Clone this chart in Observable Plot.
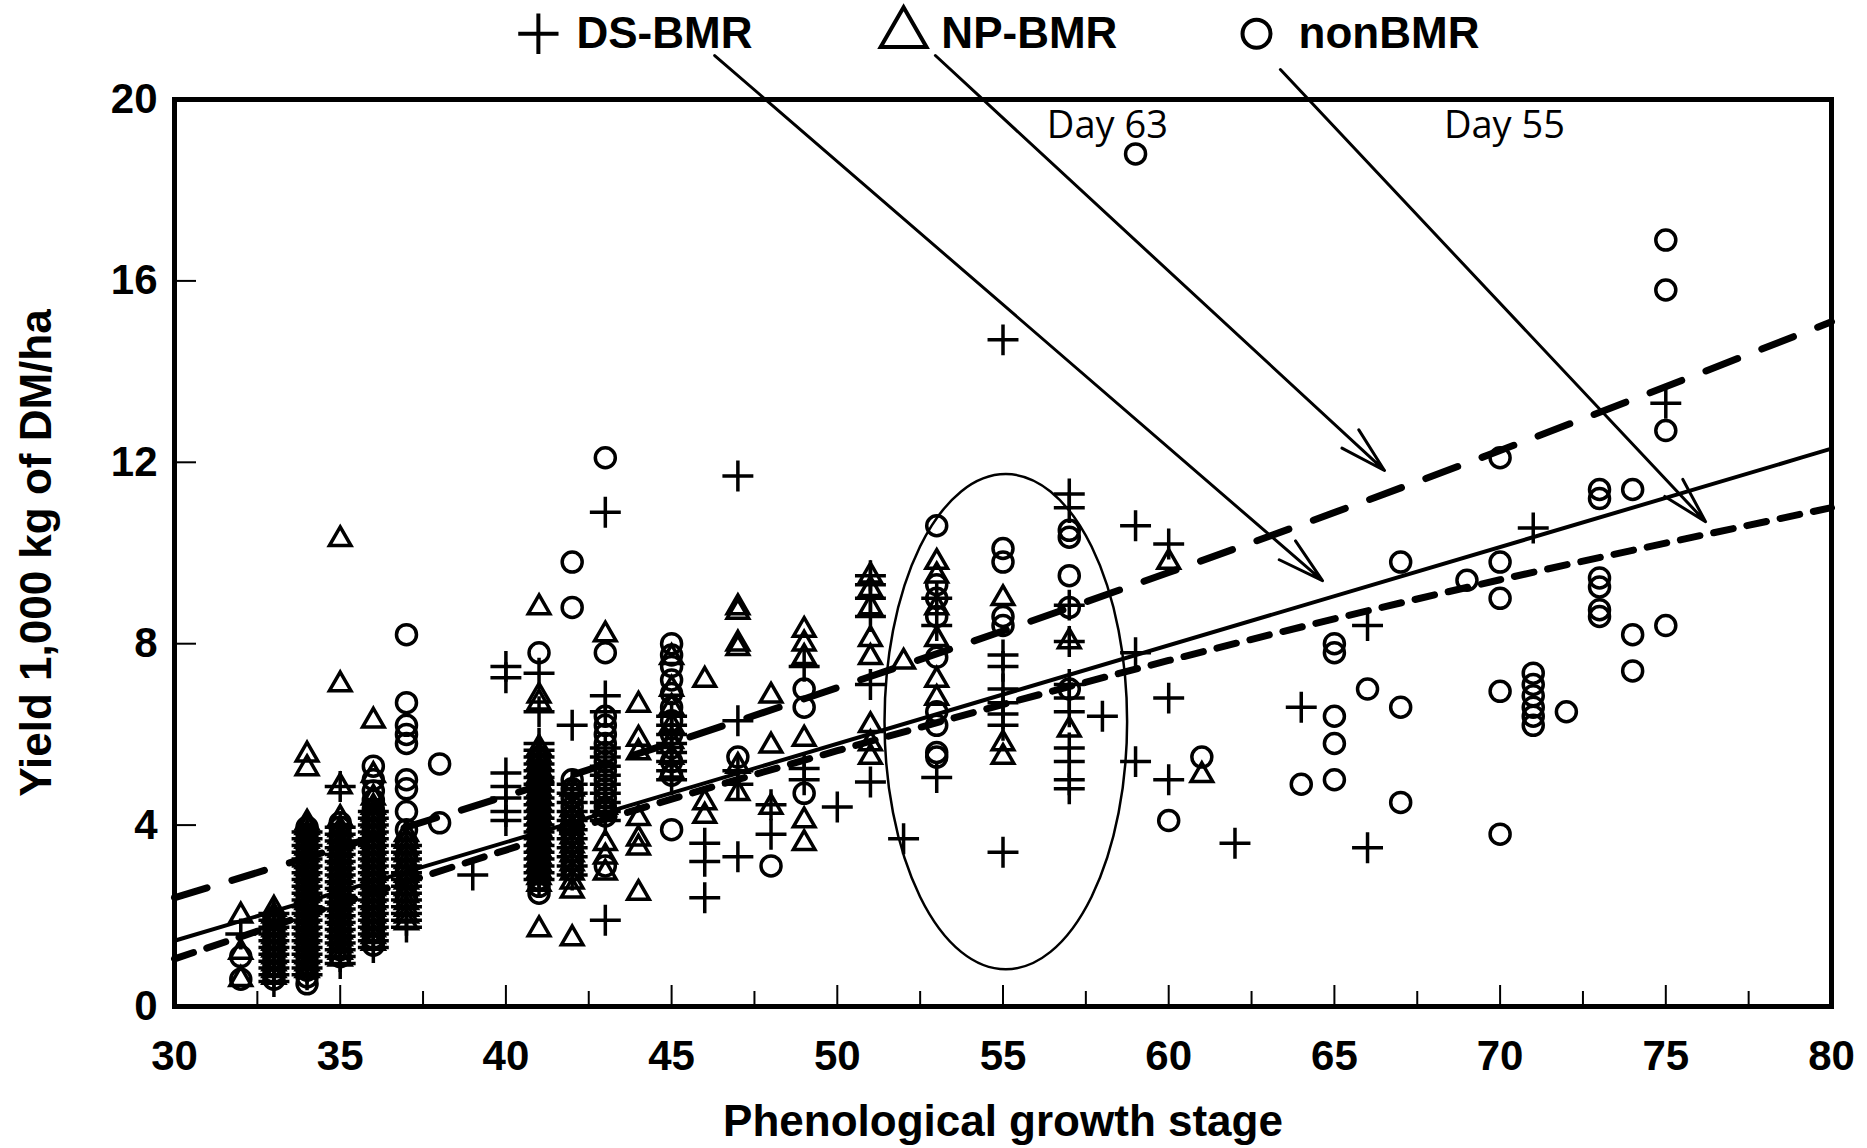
<!DOCTYPE html>
<html>
<head>
<meta charset="utf-8">
<script src="https://cdn.jsdelivr.net/npm/d3@7"></script>
<script src="https://cdn.jsdelivr.net/npm/@observablehq/plot@0.6"></script>
<style>
  html, body { margin: 0; padding: 0; background: #fff; overflow: hidden; }
  #chart svg { display: block; }
</style>
</head>
<body>
<div id="chart"></div>
<script>
// ---------- tick labels ----------
const xTickValues = [30, 35, 40, 45, 50, 55, 60, 65, 70, 75, 80];
const xMajorTickMarks = [35, 40, 45, 50, 55, 60, 65, 70, 75];
const xMinorTickMarks = [32.5, 37.5, 42.5, 47.5, 52.5, 57.5, 62.5, 67.5, 72.5, 77.5];
const yTickValues = [0, 4, 8, 12, 16, 20];
const yTickMarks = [4, 8, 12, 16];

// ---------- series (growth stage, list of yields) ----------
const dsBMR = [
  [32, [1.6]],
  [33, [0.55, 0.7, 0.85, 1.0, 1.15, 1.3, 1.45, 1.6, 1.75, 1.9, 2.05]],
  [34, [0.7, 0.85, 1.0, 1.15, 1.3, 1.45, 1.6, 1.75, 1.9, 2.05, 2.2, 2.35, 2.5, 2.65, 2.8, 2.95, 3.1, 3.25, 3.4, 3.55, 3.7, 3.85]],
  [35, [0.95, 1.1, 1.25, 1.4, 1.55, 1.7, 1.85, 2.0, 2.15, 2.3, 2.45, 2.6, 2.75, 2.9, 3.05, 3.2, 3.35, 3.5, 3.65, 3.8, 3.95, 4.85]],
  [36, [1.3, 1.45, 1.6, 1.75, 1.9, 2.05, 2.2, 2.35, 2.5, 2.65, 2.8, 2.95, 3.1, 3.25, 3.4, 3.55, 3.7, 3.85, 4.0, 4.15, 4.3]],
  [37, [1.75, 1.9, 2.05, 2.2, 2.35, 2.5, 2.65, 2.8, 2.95, 3.1, 3.25, 3.4, 3.55]],
  [39, [2.9]],
  [40, [4.1, 4.3, 4.6, 4.85, 5.15, 7.25, 7.5]],
  [41, [2.8, 2.95, 3.1, 3.25, 3.4, 3.55, 3.7, 3.85, 4.0, 4.15, 4.3, 4.45, 4.6, 4.75, 4.9, 5.05, 5.2, 5.35, 5.5, 5.65, 5.8, 6.5, 7.35]],
  [42, [2.9, 3.1, 3.3, 3.5, 3.7, 3.9, 4.1, 4.3, 4.5, 4.7, 4.9, 6.2]],
  [43, [1.9, 4.1, 4.3, 4.5, 4.7, 4.9, 5.1, 5.3, 5.5, 5.7, 6.5, 6.85, 10.9]],
  [45, [5.0, 5.2, 5.4, 5.6, 5.8, 6.0, 6.2, 6.4]],
  [46, [2.4, 3.2, 3.6]],
  [47, [3.3, 4.9, 5.2, 6.3, 11.7]],
  [48, [3.8, 4.45]],
  [49, [5.0, 5.25, 7.5]],
  [50, [4.4]],
  [51, [4.95, 7.1, 8.6, 9.0, 9.3, 9.5]],
  [52, [3.7]],
  [53, [5.05, 8.4, 9.0]],
  [55, [3.4, 6.2, 6.45, 6.7, 7.0, 7.5, 7.75, 14.7]],
  [57, [4.8, 5.0, 5.4, 5.7, 6.5, 6.8, 7.1, 8.05, 8.85, 11.0, 11.3]],
  [58, [6.4]],
  [59, [5.4, 7.8, 10.6]],
  [60, [5.0, 6.8, 10.2]],
  [62, [3.6]],
  [64, [6.6]],
  [66, [3.5, 8.4]],
  [71, [10.55]],
  [75, [13.3]]
];
const npBMR = [
  [32, [0.6, 1.2, 2.0]],
  [33, [0.65, 0.8, 0.95, 1.1, 1.25, 1.4, 1.55, 1.7, 1.85, 2.0, 2.15]],
  [34, [0.8, 0.95, 1.1, 1.25, 1.4, 1.55, 1.7, 1.85, 2.0, 2.15, 2.3, 2.45, 2.6, 2.75, 2.9, 3.05, 3.2, 3.35, 3.5, 3.65, 3.8, 3.95, 4.05, 5.25, 5.55]],
  [35, [1.05, 1.2, 1.35, 1.5, 1.65, 1.8, 1.95, 2.1, 2.25, 2.4, 2.55, 2.7, 2.85, 3.0, 3.15, 3.3, 3.45, 3.6, 3.75, 3.9, 4.15, 4.85, 7.1, 10.3]],
  [36, [1.4, 1.55, 1.7, 1.85, 2.0, 2.15, 2.3, 2.45, 2.6, 2.75, 2.9, 3.05, 3.2, 3.35, 3.5, 3.65, 3.8, 3.95, 4.1, 4.25, 4.4, 4.6, 5.1, 6.3]],
  [37, [1.85, 2.0, 2.15, 2.3, 2.45, 2.6, 2.75, 2.9, 3.05, 3.2, 3.35, 3.5, 3.65, 3.8]],
  [41, [1.7, 2.7, 2.85, 3.0, 3.15, 3.3, 3.45, 3.6, 3.75, 3.9, 4.05, 4.2, 4.35, 4.5, 4.65, 4.8, 4.95, 5.1, 5.25, 5.4, 5.55, 5.7, 6.7, 6.85, 8.8]],
  [42, [1.5, 2.55, 2.75, 2.95, 3.15, 3.35, 3.55, 3.75, 3.95, 4.15, 4.35, 4.8]],
  [43, [2.95, 3.3, 3.6, 4.4, 8.2]],
  [44, [2.5, 3.5, 3.7, 4.15, 5.6, 5.9, 6.65]],
  [45, [5.2, 5.5, 5.85, 6.2, 6.6, 7.0, 7.7]],
  [46, [4.2, 4.5, 7.2]],
  [47, [4.7, 5.3, 7.9, 8.0, 8.7, 8.8]],
  [48, [4.4, 5.75, 6.85]],
  [49, [3.6, 4.1, 5.9, 7.7, 8.0, 8.3]],
  [51, [5.5, 5.8, 6.2, 7.7, 8.1, 8.8, 9.2, 9.5]],
  [52, [7.6]],
  [53, [6.8, 7.2, 8.1, 8.8, 9.5, 9.8]],
  [55, [5.5, 5.8, 9.0]],
  [57, [6.1, 8.05]],
  [60, [9.8]],
  [61, [5.1]]
];
const nonBMR = [
  [32, [0.6, 1.1]],
  [33, [0.6, 0.75, 0.9, 1.05, 1.2, 1.35, 1.5, 1.65, 1.8, 1.95]],
  [34, [0.5, 0.65, 0.8, 0.95, 1.1, 1.25, 1.4, 1.55, 1.7, 1.85, 2.0, 2.15, 2.3, 2.45, 2.6, 2.75, 2.9, 3.05, 3.2, 3.35, 3.5, 3.65, 3.8, 3.95]],
  [35, [1.1, 1.25, 1.4, 1.55, 1.7, 1.85, 2.0, 2.15, 2.3, 2.45, 2.6, 2.75, 2.9, 3.05, 3.2, 3.35, 3.5, 3.65, 3.8, 3.95, 4.05]],
  [36, [1.35, 1.5, 1.65, 1.8, 1.95, 2.1, 2.25, 2.4, 2.55, 2.7, 2.85, 3.0, 3.15, 3.3, 3.45, 3.6, 3.75, 3.9, 4.05, 4.2, 4.35, 4.55, 4.75, 5.0, 5.3]],
  [37, [2.4, 2.7, 3.0, 3.3, 3.6, 3.9, 4.3, 4.8, 5.0, 5.8, 6.0, 6.2, 6.7, 8.2]],
  [38, [4.05, 5.35]],
  [41, [2.5, 2.65, 2.8, 2.95, 3.1, 3.25, 3.4, 3.55, 3.7, 3.85, 4.0, 4.15, 4.3, 4.45, 4.6, 4.75, 4.9, 5.05, 5.2, 5.35, 5.5, 7.8]],
  [42, [3.0, 3.2, 3.4, 3.6, 3.8, 4.0, 4.2, 4.4, 4.6, 4.8, 5.0, 8.8, 9.8]],
  [43, [3.1, 4.2, 4.4, 4.6, 4.8, 5.0, 5.2, 5.4, 5.6, 5.8, 6.0, 6.2, 6.4, 7.8, 12.1]],
  [45, [3.9, 5.1, 5.4, 5.7, 6.0, 6.3, 6.6, 6.9, 7.2, 7.5, 7.75, 8.0]],
  [47, [5.5]],
  [48, [3.1]],
  [49, [4.7, 6.6, 7.0]],
  [53, [5.5, 5.6, 6.2, 6.5, 7.7, 8.6, 9.0, 9.3, 10.6]],
  [55, [8.4, 8.6, 9.8, 10.1]],
  [57, [7.0, 8.8, 9.5, 10.35, 10.5]],
  [59, [18.8]],
  [60, [4.1]],
  [61, [5.5]],
  [64, [4.9]],
  [65, [5.0, 5.8, 6.4, 7.8, 8.0]],
  [66, [7.0]],
  [67, [4.5, 6.6, 9.8]],
  [69, [9.4]],
  [70, [3.8, 6.95, 9.0, 9.8, 12.1]],
  [71, [6.2, 6.4, 6.6, 6.85, 7.1, 7.35]],
  [72, [6.5]],
  [73, [8.6, 8.75, 9.25, 9.45, 11.2, 11.4]],
  [74, [7.4, 8.2, 11.4]],
  [75, [8.4, 12.7, 15.8, 16.9]]
];

// ---------- fitted lines ----------
const dsLine = [[30, 1.45], [55, 6.88], [80, 12.3]];
const npLine = [[30, 2.4], [40, 4.64], [50, 7.03], [60, 9.57], [70, 12.26], [80, 15.1]];
const nonLine = [[30, 1.05], [40, 3.45], [50, 5.64], [60, 7.63], [70, 9.41], [80, 11.0]];

// ---------- annotations ----------
const legendItems = [
  {sx: 40.98, tx: 42.13, y: 21.45, symbol: "plus", label: "DS-BMR"},
  {sx: 52.0, tx: 53.14, y: 21.45, symbol: "triangle", label: "NP-BMR"},
  {sx: 62.65, tx: 63.92, y: 21.45, symbol: "circle", label: "nonBMR"}
];
const arrowLines = [
  {x1: 46.3, y1: 20.97, x2: 64.64, y2: 9.39},
  {x1: 52.96, y1: 20.97, x2: 66.51, y2: 11.82},
  {x1: 63.37, y1: 20.66, x2: 76.2, y2: 10.69}
];
const dayNotes = [
  {x: 58.15, y: 19.43, text: "Day 63"},
  {x: 70.13, y: 19.43, text: "Day 55"}
];
const ellipseSpec = {cx: 55.1, cy: 6.27, rx: 3.66, ry: 5.46};

// ---------- build flat tables ----------
const flat = (cols) => cols.flatMap(([x, ys]) => ys.map(y => ({x, y})));
const dsPts = flat(dsBMR), npPts = flat(npBMR), nonPts = flat(nonBMR);

const ellipseMark = (index, scales) => {
  const el = document.createElementNS("http://www.w3.org/2000/svg", "ellipse");
  const {cx, cy, rx, ry} = ellipseSpec;
  el.setAttribute("cx", scales.x(cx));
  el.setAttribute("cy", scales.y(cy));
  el.setAttribute("rx", scales.x(cx + rx) - scales.x(cx));
  el.setAttribute("ry", scales.y(cy) - scales.y(cy + ry));
  el.setAttribute("fill", "none");
  el.setAttribute("stroke", "black");
  el.setAttribute("stroke-width", 2.5);
  return el;
};

const W = 1867, H = 1148, mT = 99, mB = 142, mL = 174, mR = 36;
const innerH = H - mT - mB, innerW = W - mL - mR;
const FONT = "'Liberation Sans', Arial, Helvetica, sans-serif";
const SW = 3.5;

const chart = Plot.plot({
  width: W, height: H,
  marginTop: mT, marginBottom: mB, marginLeft: mL, marginRight: mR,
  x: {domain: [30, 80]},
  y: {domain: [0, 20]},
  style: {background: "white", fontFamily: FONT, color: "black"},
  marks: [
    // fitted lines
    Plot.line(npLine, {x: d => d[0], y: d => d[1], curve: "natural", stroke: "black", strokeWidth: 7, strokeDasharray: "34,26"}),
    Plot.line(dsLine, {x: d => d[0], y: d => d[1], curve: "natural", stroke: "black", strokeWidth: 4}),
    Plot.line(nonLine, {x: d => d[0], y: d => d[1], curve: "natural", stroke: "black", strokeWidth: 7, strokeDasharray: "20,14"}),
    // points
    Plot.dot(nonPts, {x: "x", y: "y", symbol: "circle", r: 10, fill: "none", stroke: "black", strokeWidth: SW}),
    Plot.dot(npPts, {x: "x", y: "y", symbol: "triangle", r: 8, fill: "none", stroke: "black", strokeWidth: SW}),
    Plot.dot(dsPts, {x: "x", y: "y", symbol: "plus", r: 10, fill: "none", stroke: "black", strokeWidth: SW}),
    // ellipse
    ellipseMark,
    // arrows
    Plot.arrow(arrowLines, {x1: "x1", y1: "y1", x2: "x2", y2: "y2", stroke: "black", strokeWidth: 3, headLength: 24, headAngle: 30}),
    // frame + ticks
    Plot.frame({stroke: "black", strokeWidth: 5}),
    Plot.tickX(xMajorTickMarks, {x: d => d, insetTop: innerH - 21, stroke: "black", strokeWidth: 2}),
    Plot.tickX(xMinorTickMarks, {x: d => d, insetTop: innerH - 15, stroke: "black", strokeWidth: 2}),
    Plot.tickY(yTickMarks, {y: d => d, insetRight: innerW - 22, stroke: "black", strokeWidth: 2}),
    Plot.axisX({ticks: xTickValues, tickSize: 0, tickPadding: 34, label: null, fontSize: 42, fontWeight: "bold", fontFamily: FONT, tickFormat: d => String(d)}),
    Plot.axisY({ticks: yTickValues, tickSize: 0, tickPadding: 17, label: null, fontSize: 42, fontWeight: "bold", fontFamily: FONT, tickFormat: d => String(d)}),
    // axis titles
    Plot.text(["Phenological growth stage"], {frameAnchor: "bottom", lineAnchor: "middle", textAnchor: "middle", dy: 115, text: d => d, fontSize: 44, fontWeight: "bold", fontFamily: FONT, fill: "black"}),
    Plot.text(["Yield 1,000 kg of DM/ha"], {frameAnchor: "left", lineAnchor: "middle", textAnchor: "middle", dx: -138, rotate: -90, text: d => d, fontSize: 44, fontWeight: "bold", fontFamily: FONT, fill: "black"}),
    // day notes
    Plot.text(dayNotes, {x: "x", y: "y", text: "text", fontSize: 38, fontWeight: "normal", fontFamily: "'Open Sans', 'Noto Sans', sans-serif", fill: "black"}),
    // legend
    Plot.dot(legendItems.filter(d => d.symbol === "plus"), {x: "sx", y: "y", symbol: "plus", r: 13, fill: "none", stroke: "black", strokeWidth: 4}),
    Plot.dot(legendItems.filter(d => d.symbol === "triangle"), {x: "sx", y: "y", symbol: "triangle", r: 17, fill: "none", stroke: "black", strokeWidth: 4}),
    Plot.dot(legendItems.filter(d => d.symbol === "circle"), {x: "sx", y: "y", symbol: "circle", r: 14, fill: "none", stroke: "black", strokeWidth: 4}),
    Plot.text(legendItems, {x: "tx", y: "y", text: "label", textAnchor: "start", fontSize: 44, fontWeight: "bold", fontFamily: FONT, fill: "black"})
  ]
});
document.getElementById("chart").append(chart);
</script>
</body>
</html>
